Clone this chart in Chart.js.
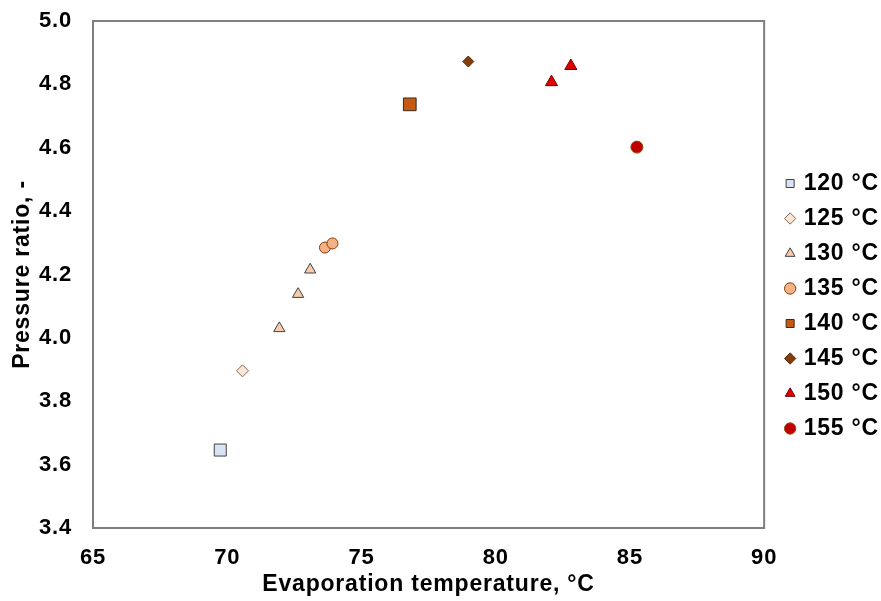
<!DOCTYPE html>
<html>
<head>
<meta charset="utf-8">
<script src="https://cdn.jsdelivr.net/npm/chart.js@4/dist/chart.umd.min.js"></script>
<style>
  html, body { margin: 0; padding: 0; background: #ffffff; }
  #wrap { width: 881px; height: 601px; }
</style>
</head>
<body>
<div id="wrap"><canvas id="c" width="881" height="601"></canvas></div>
<script>
// Heat-source temperature series: evaporation temperature (°C) vs pressure ratio (-)
const seriesLabels = ['120 °C', '125 °C', '130 °C', '135 °C', '140 °C', '145 °C', '150 °C', '155 °C'];
const evapTemp = [
  [69.74],
  [70.57],
  [71.94, 72.64, 73.09],
  [73.64, 73.92],
  [76.80],
  [78.98],
  [82.08, 82.80],
  [85.26]
];
const pressureRatio = [
  [3.646],
  [3.896],
  [4.030, 4.138, 4.215],
  [4.285, 4.298],
  [4.737],
  [4.872],
  [4.807, 4.858],
  [4.602]
];
const xTicks = [65, 70, 75, 80, 85, 90];
const yTicks = [3.4, 3.6, 3.8, 4.0, 4.2, 4.4, 4.6, 4.8, 5.0];

// marker styling per series
const markerStyle = ['rect', 'rectRot', 'triangle', 'circle', 'rect', 'rectRot', 'triangle', 'circle'];
const markerRadius = [8.5, 6, 6.5, 5.5, 9, 5.5, 7, 6];
const markerFill = ['#dae3f3', '#fbe5d6', '#f8cbad', '#f4b183', '#c55a11', '#843c0c', '#e00000', '#c00000'];
const markerEdge = ['#404040', '#7f6a5a', '#404040', '#843c0c', '#3a2a20', '#5a2a08', '#700000', '#8a4a10'];

const FONT = "'Liberation Sans', Arial, sans-serif";
const LEFT_PAD = 9;
const RIGHT_PAD = 4;
const PLOT_LEFT = 93;
const PLOT_TOP = 21;
const PLOT_BOTTOM = 528;
const BOTTOM_PAD = 3;
const LEGEND_SHIFT_X = 12;
const LEGEND_SHIFT_Y = 7;

const datasets = seriesLabels.map((label, i) => ({
  label,
  data: evapTemp[i].map((x, j) => ({ x, y: pressureRatio[i][j] })),
  pointStyle: markerStyle[i],
  pointRadius: markerRadius[i],
  pointHoverRadius: markerRadius[i],
  backgroundColor: markerFill[i],
  borderColor: markerEdge[i],
  pointBorderWidth: 1,
  showLine: false
}));

// slightly widened lettering for all chart text
const spacing = {
  id: 'spacing',
  beforeLayout(chart) { chart.ctx.letterSpacing = '0.8px'; },
  beforeDraw(chart) { chart.ctx.letterSpacing = '0.8px'; }
};

// nudge the legend column a little away from the plot frame
const legendShift = {
  id: 'legendShift',
  afterLayout(chart) {
    const lg = chart.legend;
    if (lg) {
      lg.left += LEGEND_SHIFT_X; lg.right += LEGEND_SHIFT_X;
      lg.top += LEGEND_SHIFT_Y; lg.bottom += LEGEND_SHIFT_Y;
    }
  }
};

// grey frame around the plot area
const frame = {
  id: 'frame',
  afterDatasetsDraw(chart) {
    const { ctx, chartArea: a } = chart;
    ctx.save();
    ctx.strokeStyle = '#7f7f7f';
    ctx.lineWidth = 2;
    ctx.strokeRect(a.left, a.top, a.right - a.left, a.bottom - a.top);
    ctx.restore();
  }
};

new Chart(document.getElementById('c'), {
  type: 'scatter',
  data: { datasets },
  plugins: [spacing, legendShift, frame],
  options: {
    responsive: false,
    animation: false,
    layout: { padding: { left: LEFT_PAD, right: RIGHT_PAD, top: 0, bottom: BOTTOM_PAD } },
    plugins: {
      tooltip: { enabled: false },
      legend: {
        position: 'right',
        labels: {
          usePointStyle: true,
          boxWidth: 4,
          boxHeight: 8,
          padding: 12,
          color: '#000000',
          font: { family: FONT, size: 23, weight: 'bold' }
        }
      }
    },
    scales: {
      x: {
        type: 'linear',
        min: 65, max: 90,
        afterBuildTicks(scale) { scale.ticks = xTicks.map(v => ({ value: v })); },
        afterFit(scale) {
          scale.height = 601 - BOTTOM_PAD - PLOT_BOTTOM;
          scale.paddingLeft = 0;
          scale.paddingRight = 0;
        },
        grid: { display: false, drawTicks: false },
        border: { display: false },
        ticks: {
          padding: 17,
          color: '#000000',
          font: { family: FONT, size: 22, weight: 'bold' }
        },
        title: {
          display: true,
          text: 'Evaporation temperature, °C',
          color: '#000000',
          padding: { top: 0, bottom: 0 },
          font: { family: FONT, size: 23, weight: 'bold' }
        }
      },
      y: {
        type: 'linear',
        min: 3.4, max: 5.0,
        afterBuildTicks(scale) { scale.ticks = yTicks.map(v => ({ value: v })); },
        afterFit(scale) {
          scale.width = PLOT_LEFT - LEFT_PAD;
          scale.paddingTop = PLOT_TOP;
          scale.paddingBottom = 0;
        },
        grid: { display: false, drawTicks: false },
        border: { display: false },
        ticks: {
          padding: 21,
          color: '#000000',
          callback: v => Number(v).toFixed(1),
          font: { family: FONT, size: 22, weight: 'bold' }
        },
        title: {
          display: true,
          text: 'Pressure ratio, -',
          color: '#000000',
          padding: { top: 0, bottom: 0 },
          font: { family: FONT, size: 23, weight: 'bold' }
        }
      }
    }
  }
});
</script>
</body>
</html>
